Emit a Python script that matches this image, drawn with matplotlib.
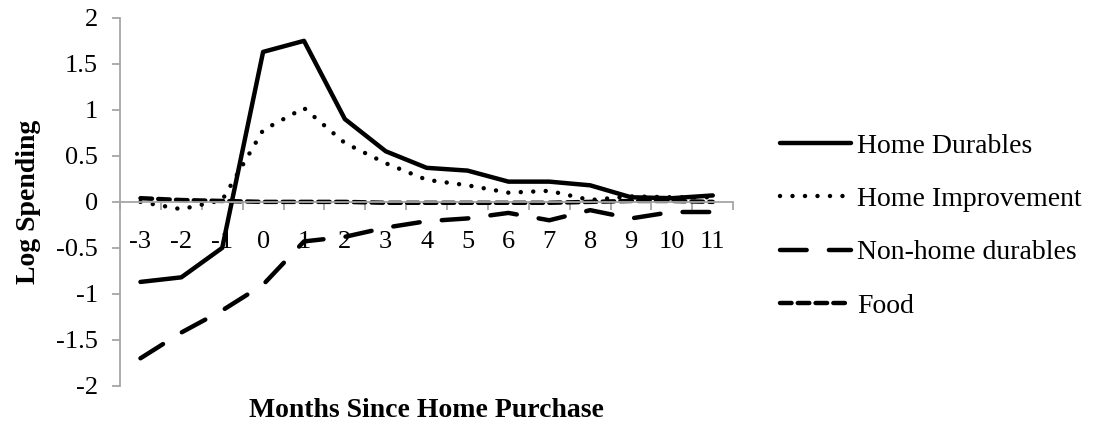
import matplotlib
matplotlib.use('Agg')
import matplotlib.pyplot as plt
from matplotlib.ticker import FixedLocator, FuncFormatter

# months since purchase
months = [-3, -2, -1, 0, 1, 2, 3, 4, 5, 6, 7, 8, 9, 10, 11]

home_durables = [-0.87, -0.82, -0.50, 1.63, 1.75, 0.90, 0.55, 0.37, 0.34, 0.22, 0.22, 0.18, 0.05, 0.04, 0.07]
home_improvement = [0.00, -0.08, 0.02, 0.78, 1.02, 0.64, 0.42, 0.24, 0.18, 0.10, 0.12, 0.02, 0.06, 0.05, 0.05]
non_home_durables = [-1.70, -1.42, -1.18, -0.90, -0.43, -0.38, -0.28, -0.21, -0.18, -0.12, -0.20, -0.09, -0.18, -0.11, -0.11]
food = [0.04, 0.02, 0.01, 0.00, 0.00, 0.00, -0.01, -0.01, -0.01, -0.01, -0.01, 0.00, 0.01, 0.01, 0.00]

y_ticks = [-2, -1.5, -1, -0.5, 0, 0.5, 1, 1.5, 2]

plt.rcParams['font.family'] = 'Liberation Serif'
fs = 19
fs_big = 20

fig = plt.figure(figsize=(10.96, 4.25), dpi=100)
ax = fig.add_axes([0.1095, 0.092, 0.5595, 0.866])

x = list(range(len(months)))
lw = 3.2
ax.plot(x, home_durables, color='black', lw=lw, solid_capstyle='round', label='Home Durables')
ax.plot(x, home_improvement, color='black', lw=lw, linestyle=(0, (0.01, 2.8)),
        dash_capstyle='round', label='Home Improvement')
ax.plot(x, non_home_durables, color='black', lw=lw, linestyle=(0, (6, 5)),
        dash_capstyle='round', label='Non-home durables')
ax.plot(x, food, color='black', lw=lw, linestyle=(0, (2.6, 1.4)),
        dash_capstyle='round', label='Food')

ax.set_xlim(-0.5, len(months) - 0.5)
ax.set_ylim(-2, 2)

for s in ['top', 'right']:
    ax.spines[s].set_visible(False)
ax.spines['left'].set_color('#a6a6a6')
ax.spines['bottom'].set_color('#a6a6a6')
ax.spines['bottom'].set_position(('data', 0))
ax.spines['left'].set_linewidth(1.3)
ax.spines['bottom'].set_linewidth(1.3)

ax.yaxis.set_major_locator(FixedLocator(y_ticks))
ax.yaxis.set_major_formatter(FuncFormatter(lambda v, p: ('%g' % v)))
ax.tick_params(axis='y', direction='out', length=6, width=1.3, color='#a6a6a6',
               labelsize=fs, pad=10)

# category labels centred, tick marks on boundaries
ax.set_xticks(x)
ax.set_xticklabels([str(m) for m in months])
ax.set_xticks([i - 0.5 for i in range(len(months) + 1)], minor=True)
ax.tick_params(axis='x', which='major', length=0, labelsize=fs, pad=21)
ax.tick_params(axis='x', which='minor', direction='out', length=6, width=1.3, color='#a6a6a6')

fig.text(0.389, 0.035, 'Months Since Home Purchase', ha='center', va='center',
         fontsize=fs_big, fontweight='bold')
fig.text(0.026, 0.525, 'Log Spending', ha='center', va='center', rotation=90,
         fontsize=fs_big, fontweight='bold')

leg = ax.legend(loc='center left', bbox_to_anchor=(0.712, 0.468), bbox_transform=fig.transFigure,
                frameon=False, fontsize=fs_big, handlelength=2.55, handletextpad=0.22,
                labelspacing=1.0, borderaxespad=0, borderpad=0)

fig.savefig('out.png', dpi=100)
